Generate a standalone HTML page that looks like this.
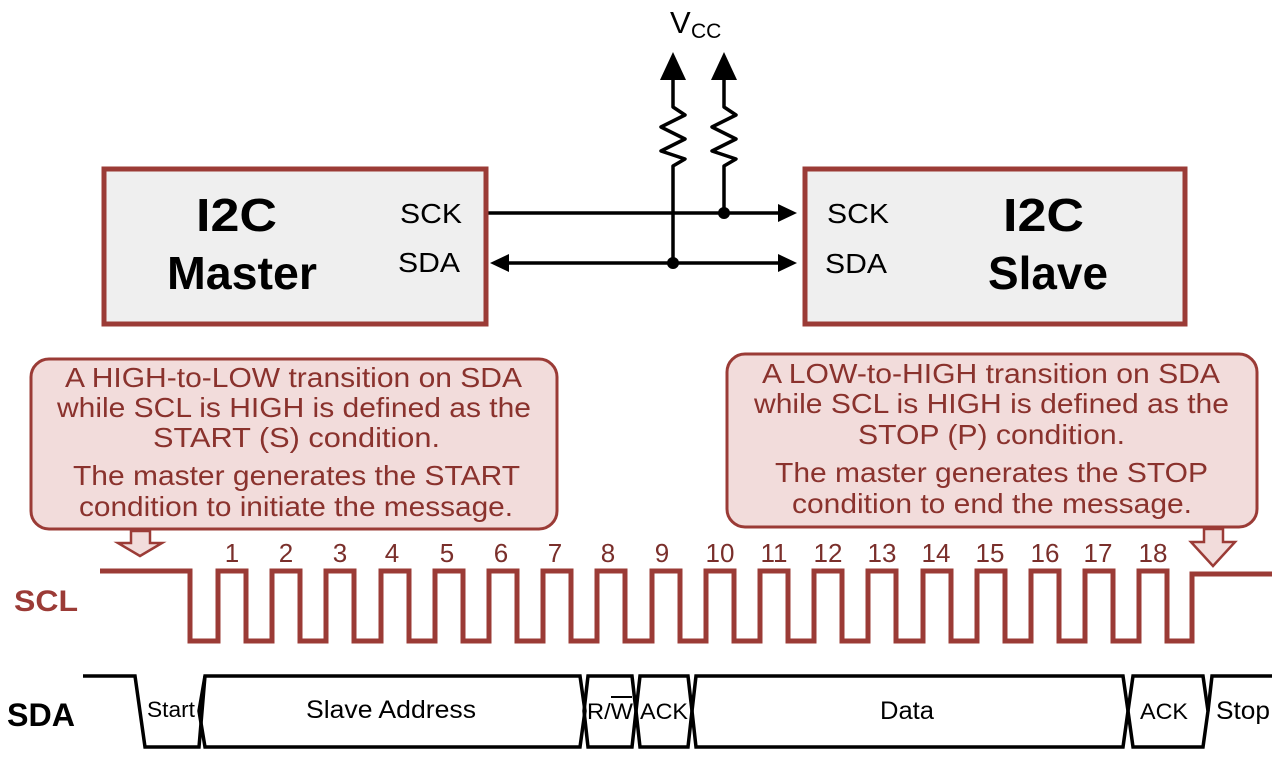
<!DOCTYPE html>
<html><head><meta charset="utf-8"><style>
html,body{margin:0;padding:0;background:#fff;}
svg{display:block;}
text{font-family:"Liberation Sans",Arial,sans-serif;}
</style></head><body>
<svg width="1272" height="762" viewBox="0 0 1272 762" xmlns="http://www.w3.org/2000/svg">
<!-- Vcc -->
<text x="670" y="33" font-size="31" fill="#000">V</text><text x="691" y="38" font-size="21" fill="#000">CC</text>
<polygon points="673,52 660,80 686,80" fill="#000"/>
<polygon points="724,52 711,80 737,80" fill="#000"/>
<g fill="none" stroke="#000" stroke-width="3.5" stroke-linejoin="round">
<path d="M673,78 V107 L685,115 L661,127 L685,139 L661,151 L685,159 L673,166 V263"/>
<path d="M724,78 V107 L736,115 L712,127 L736,139 L712,151 L736,159 L724,166 V213"/>
<path d="M488,213 H785"/>
<path d="M505,263 H785"/>
</g>
<polygon points="797,213 778,204 778,222" fill="#000"/>
<polygon points="797,263 778,254 778,272" fill="#000"/>
<polygon points="490,263 509,254 509,272" fill="#000"/>
<circle cx="673" cy="263" r="6" fill="#000"/>
<circle cx="724" cy="213" r="6" fill="#000"/>
<!-- boxes -->
<rect x="104" y="169" width="382" height="155" fill="#efefef" stroke="#9b3b36" stroke-width="5"/>
<rect x="805" y="169" width="380" height="155" fill="#efefef" stroke="#9b3b36" stroke-width="5"/>
<g font-weight="bold" font-size="46">
<text x="196" y="231" textLength="81" lengthAdjust="spacingAndGlyphs">I2C</text>
<text x="167" y="289" textLength="150" lengthAdjust="spacingAndGlyphs">Master</text>
<text x="1003" y="231" textLength="81" lengthAdjust="spacingAndGlyphs">I2C</text>
<text x="988" y="289" textLength="120" lengthAdjust="spacingAndGlyphs">Slave</text>
</g>
<g font-size="28">
<text x="400" y="223" textLength="62" lengthAdjust="spacingAndGlyphs">SCK</text>
<text x="398" y="272" textLength="62" lengthAdjust="spacingAndGlyphs">SDA</text>
<text x="827" y="223" textLength="62" lengthAdjust="spacingAndGlyphs">SCK</text>
<text x="825" y="273" textLength="62" lengthAdjust="spacingAndGlyphs">SDA</text>
</g>
<!-- callouts -->
<rect x="31" y="359" width="526" height="170" rx="18" fill="#f2dcdb" stroke="#9b3b36" stroke-width="3"/>
<rect x="727" y="354" width="530" height="173" rx="18" fill="#f2dcdb" stroke="#9b3b36" stroke-width="3"/>
<g fill="#8a322d" font-size="28">
<text x="65" y="387" textLength="457" lengthAdjust="spacingAndGlyphs">A HIGH-to-LOW transition on SDA</text>
<text x="57" y="417" textLength="474" lengthAdjust="spacingAndGlyphs">while SCL is HIGH is defined as the</text>
<text x="153" y="447" textLength="287" lengthAdjust="spacingAndGlyphs">START (S) condition.</text>
<text x="73" y="485" textLength="447" lengthAdjust="spacingAndGlyphs">The master generates the START</text>
<text x="79" y="516" textLength="434" lengthAdjust="spacingAndGlyphs">condition to initiate the message.</text>
<text x="762" y="383" textLength="458" lengthAdjust="spacingAndGlyphs">A LOW-to-HIGH transition on SDA</text>
<text x="754" y="413" textLength="475" lengthAdjust="spacingAndGlyphs">while SCL is HIGH is defined as the</text>
<text x="858" y="444" textLength="267" lengthAdjust="spacingAndGlyphs">STOP (P) condition.</text>
<text x="775" y="482" textLength="433" lengthAdjust="spacingAndGlyphs">The master generates the STOP</text>
<text x="792" y="513" textLength="400" lengthAdjust="spacingAndGlyphs">condition to end the message.</text>
</g>
<polygon points="131,531 150,531 150,543 162,543 140,556 118,543 131,543" fill="#f2dcdb" stroke="#9b3b36" stroke-width="2.5"/>
<polygon points="1204,529 1223,529 1223,542 1235,542 1213,566 1191,542 1204,542" fill="#f2dcdb" stroke="#9b3b36" stroke-width="2.5"/>
<!-- numbers -->
<g fill="#7a2f2b" font-size="26" text-anchor="middle">
<text x="232" y="562">1</text><text x="286" y="562">2</text><text x="340" y="562">3</text><text x="392" y="562">4</text><text x="447" y="562">5</text><text x="501" y="562">6</text><text x="555" y="562">7</text><text x="608" y="562">8</text><text x="662" y="562">9</text><text x="720" y="562">10</text><text x="774" y="562">11</text><text x="828" y="562">12</text><text x="882" y="562">13</text><text x="936" y="562">14</text><text x="990" y="562">15</text><text x="1045" y="562">16</text><text x="1098" y="562">17</text><text x="1153" y="562">18</text>
</g>
<text x="14" y="611" font-size="30" font-weight="bold" fill="#9b3b36" textLength="64" lengthAdjust="spacingAndGlyphs">SCL</text>
<text x="7" y="726" font-size="32" font-weight="bold" fill="#000" textLength="68" lengthAdjust="spacingAndGlyphs">SDA</text>
<path d="M100,571 H190 V641 H218 V571 H246 V641 H272 V571 H300 V641 H326 V571 H354 V641 H381 V571 H409 V641 H435 V571 H463 V641 H489 V571 H517 V641 H543 V571 H571 V641 H597 V571 H625 V641 H652 V571 H680 V641 H706 V571 H734 V641 H760 V571 H788 V641 H814 V571 H842 V641 H868 V571 H896 V641 H923 V571 H951 V641 H977 V571 H1005 V641 H1031 V571 H1059 V641 H1085 V571 H1113 V641 H1139 V571 H1167 V641 H1192 V574 H1272" fill="none" stroke="#9b3b36" stroke-width="5" stroke-linejoin="miter"/>
<!-- SDA -->
<g fill="none" stroke="#000" stroke-width="3.5" stroke-linejoin="miter">
<path d="M83,676 H135 L145,747 H199 L205,676"/>
<path d="M205,676 H580 L585,711 L580,747 H205 L199,711 Z"/>
<path d="M588,676 H632 L636,711 L632,747 H588 L584,711 Z"/>
<path d="M640,676 H688 L692,711 L688,747 H640 L636,711 Z"/>
<path d="M696,676 H1123 L1128,711 L1123,747 H696 L692,711 Z"/>
<path d="M1133,676 H1203 L1208,711 L1203,747 H1133 L1128,711 Z"/>
<path d="M1272,676 H1212 L1208,711"/>
</g>
<g font-size="25" fill="#000">
<text x="147" y="717" font-size="22" textLength="48" lengthAdjust="spacingAndGlyphs">Start</text>
<text x="306" y="718" textLength="170" lengthAdjust="spacingAndGlyphs">Slave Address</text>
<text x="587" y="719" font-size="22" textLength="46" lengthAdjust="spacingAndGlyphs">R/W</text>
<line x1="611" y1="697" x2="632" y2="697" stroke="#000" stroke-width="2"/>
<text x="640" y="719" font-size="22" textLength="48" lengthAdjust="spacingAndGlyphs">ACK</text>
<text x="880" y="719" textLength="54" lengthAdjust="spacingAndGlyphs">Data</text>
<text x="1140" y="719" font-size="22" textLength="48" lengthAdjust="spacingAndGlyphs">ACK</text>
<text x="1216" y="719" textLength="54" lengthAdjust="spacingAndGlyphs">Stop</text>
</g>
</svg>
</body></html>
